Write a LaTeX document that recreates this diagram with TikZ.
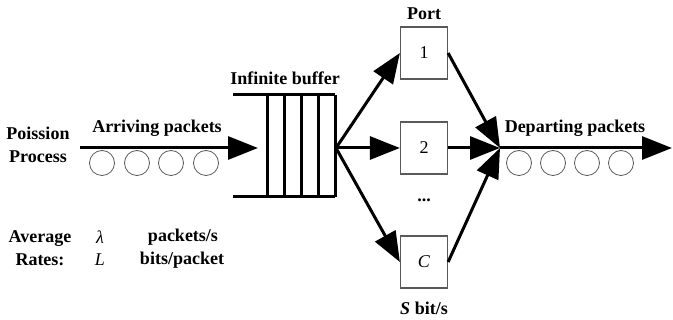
\documentclass[tikz,border=0pt]{standalone}
\usepackage{fontspec}
\setmainfont{Liberation Serif}
\usetikzlibrary{arrows.meta}
\begin{document}
\begin{tikzpicture}[x=1pt,y=-1pt,
  lbl/.style={font=\fontsize{18}{23}\selectfont\bfseries, inner sep=0pt, align=center},
  thick line/.style={line width=3pt, black},
  arr/.style={thick line, -{Triangle[length=30pt,width=23pt]}},
  pkt/.style={circle, draw=black!65, line width=0.8pt, minimum size=25pt, inner sep=0pt},
  port/.style={draw=black!65, line width=1.2pt, fill=white, minimum width=47pt, minimum height=52pt, inner sep=0pt, font=\fontsize{18}{20}\selectfont}]
\useasboundingbox (0,0) rectangle (673,320);
% left text
\node[lbl] (pp) at (38,145) {Poission\\Process};
\node[lbl] (arrl) at (157,128) {Arriving packets};
\node[lbl] (avg) at (40,248) {Average\\Rates:};
\node[inner sep=0pt, font=\fontsize{18}{20}\selectfont\itshape] (lam) at (100,237) {λ};
\node[inner sep=0pt, font=\fontsize{18}{20}\selectfont\itshape] (ell) at (100,260) {L};
\node[lbl] (pps) at (183,237) {packets/s};
\node[lbl] (bpp) at (182,260) {bits/packet};
% arriving arrow
\coordinate (ain) at (80,148);
\coordinate (aout) at (258,148);
\draw[arr] (ain) -- (aout);
\foreach \i/\x in {1/102,2/137,3/171,4/206} \node[pkt] (c\i) at (\x,163) {};
% buffer
\node[lbl] (buf) at (285,78) {Infinite buffer};
\coordinate (bt0) at (233,95);
\coordinate (bt1) at (335,95);
\coordinate (bb0) at (233,197);
\coordinate (bb1) at (335,197);
\draw[thick line] (bt0) -- (bt1);
\draw[thick line] (bb0) -- (bb1);
\foreach \x in {267,284,301,318,335} \draw[thick line] (\x,95) -- (\x,197);
% ports
\coordinate (split) at (336,148);
\coordinate (merge) at (500,148);
\node[port] (p1) at (424,53) {1};
\node[port] (p2) at (424,148) {2};
\node[port] (pC) at (424,262) {\itshape C};
\node[lbl] (porttxt) at (424,14) {Port};
\node[lbl] (dots) at (424,200) {...};
\node[lbl] (sbit) at (424,308) {\itshape S\upshape\ bit/s};
\draw[arr] (split) -- (p1.west);
\draw[arr] (split) -- (p2.west);
\draw[arr] (split) -- (pC.west);
\draw[arr] (p1.east) -- (merge);
\draw[arr] (p2.east) -- (merge);
\draw[arr] (pC.east) -- (merge);
% departing
\coordinate (dout) at (672,148);
\draw[arr] (merge) -- (dout);
\node[lbl] (depl) at (575,128) {Departing packets};
\foreach \i/\x in {5/519,6/553,7/587,8/621} \node[pkt] (c\i) at (\x,163) {};
\end{tikzpicture}
\end{document}
